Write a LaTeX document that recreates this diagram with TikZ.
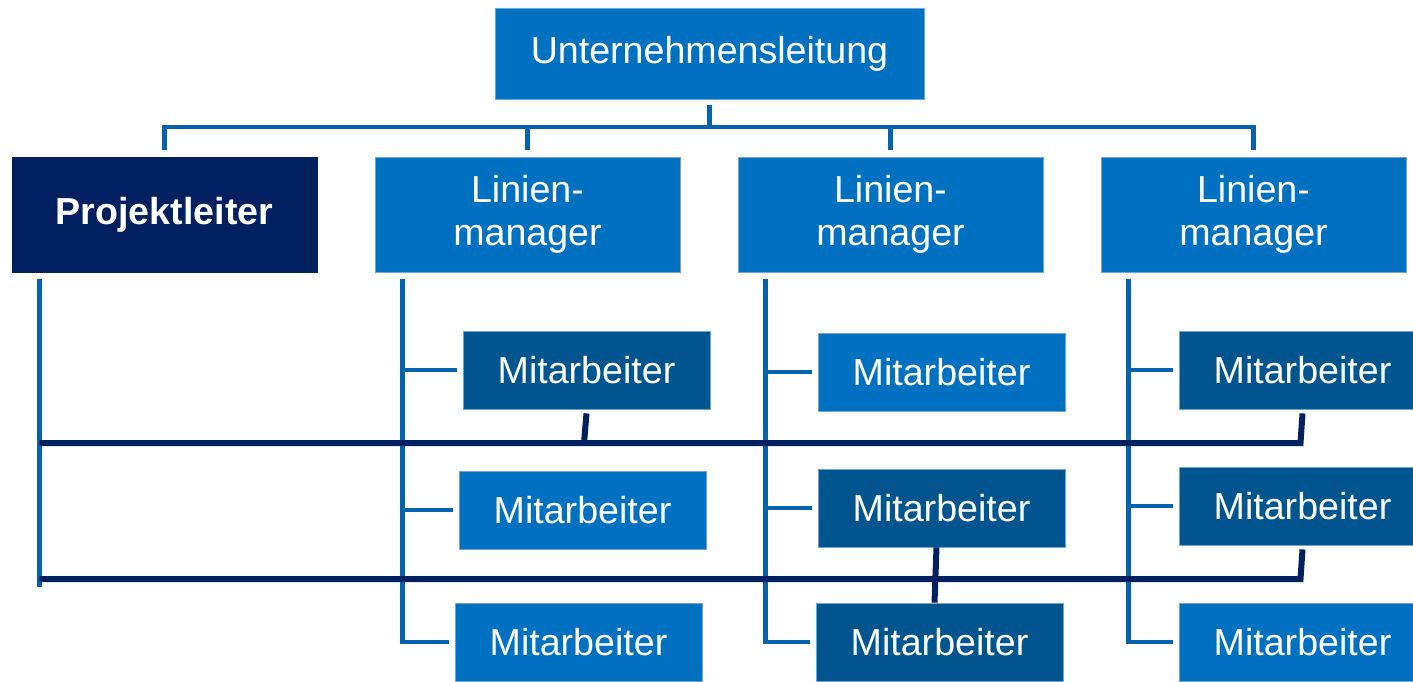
\documentclass[tikz,border=0pt]{standalone}
\usepackage{fontspec}
\setmainfont{Liberation Sans}
\usetikzlibrary{calc}
\definecolor{midblue}{HTML}{0070C0}
\definecolor{darkblue}{HTML}{00558F}
\definecolor{navy}{HTML}{002060}
\definecolor{lineblue}{HTML}{0563AD}
\definecolor{edgeblue}{HTML}{6FA6D8}
\begin{document}
\begin{tikzpicture}[x=0.5pt,y=-0.5pt,
  box/.style={rectangle, inner sep=0pt, text=white, font=\fontsize{18.8}{21.5}\selectfont, align=center, draw=edgeblue, line width=0.4pt},
  mbox/.style={box, minimum width=123.5pt, minimum height=39pt},
  mmid/.style={mbox, fill=midblue},
  mdark/.style={mbox, fill=darkblue},
  lbox/.style={box, fill=midblue, minimum width=152.5pt, minimum height=57.5pt},
  pbox/.style={box, fill=navy, draw=navy, minimum width=152.5pt, minimum height=57.5pt, font=\fontsize{18.8}{21.5}\selectfont\bfseries},
  topbox/.style={box, fill=midblue, minimum width=214.5pt, minimum height=45.5pt},
  bl/.style={draw=lineblue, line width=2.4pt},
  nv/.style={draw=navy, line width=3pt}]
\useasboundingbox (0,0) rectangle (1413,681);
\clip (0,0) rectangle (1413,681);

\node[topbox] (U) at (709.5,53.5) {Unternehmensleitung};
\node[pbox] (P) at (164.5,214.5) {Projektleiter};
\node[lbox] (L1) at (527.5,214.5) {Linien-\\manager};
\node[lbox] (L2) at (890.5,214.5) {Linien-\\manager};
\node[lbox] (L3) at (1253.5,214.5) {Linien-\\manager};

\node[mdark] (M11) at (586.5,370) {Mitarbeiter};
\node[mmid]  (M12) at (582.5,510) {Mitarbeiter};
\node[mmid]  (M13) at (578.5,642) {Mitarbeiter};
\node[mmid]  (M21) at (941.5,372) {Mitarbeiter};
\node[mdark] (M22) at (941.5,508) {Mitarbeiter};
\node[mdark] (M23) at (939.5,642) {Mitarbeiter};
\node[mdark] (M31) at (1302.5,370) {Mitarbeiter};
\node[mdark] (M32) at (1302.5,506) {Mitarbeiter};
\node[mmid]  (M33) at (1302.5,642) {Mitarbeiter};

\coordinate (bus) at (709.5,127);
\coordinate (h1) at (0,443);
\coordinate (h2) at (0,579);

% top tree
\draw[bl] ([yshift=-3pt]U.south) -- (U.south |- bus);
\draw[bl] ([yshift=3.5pt]P.north) -- (P.north |- bus) -- (L3.north |- bus) -- ([yshift=3.5pt]L3.north);
\draw[bl] ([yshift=3.5pt]L1.north) -- (L1.north |- bus);
\draw[bl] ([yshift=3.5pt]L2.north) -- (L2.north |- bus);

% project leader vertical
\coordinate (pv) at ([xshift=14pt,yshift=-3.5pt]P.south west);
\draw[bl] (pv) -- ($(pv |- h2)+(0,8)$);

% line manager trees
\coordinate (v1) at ([xshift=14pt,yshift=-3.5pt]L1.south west);
\draw[bl] (v1) -- (v1 |- M13.west) -- ([xshift=-3pt]M13.west);
\draw[bl] (v1 |- M11.west) -- ([xshift=-3pt]M11.west);
\draw[bl] (v1 |- M12.west) -- ([xshift=-3pt]M12.west);

\coordinate (v2) at ([xshift=14pt,yshift=-3.5pt]L2.south west);
\draw[bl] (v2) -- (v2 |- M23.west) -- ([xshift=-3pt]M23.west);
\draw[bl] (v2 |- M21.west) -- ([xshift=-3pt]M21.west);
\draw[bl] (v2 |- M22.west) -- ([xshift=-3pt]M22.west);

\coordinate (v3) at ([xshift=14pt,yshift=-3.5pt]L3.south west);
\draw[bl] (v3) -- (v3 |- M33.west) -- ([xshift=-3pt]M33.west);
\draw[bl] (v3 |- M31.west) -- ([xshift=-3pt]M31.west);
\draw[bl] (v3 |- M32.west) -- ([xshift=-3pt]M32.west);

% project lines
\draw[nv] (pv |- h1) -- ($(M31.south |- h1)+(-2,0)$) -- ([yshift=-2pt]M31.south);
\draw[nv] (pv |- h2) -- ($(M32.south |- h2)+(-2,0)$) -- ([yshift=-2pt]M32.south);
\draw[nv] ([yshift=-2pt]M11.south) -- ($(M11.south |- h1)+(-2.5,0)$);
\draw[nv] ($(M22.south)+(-5,0)$) -- ($(M23.north)+(-5,0)$);
\end{tikzpicture}
\end{document}
